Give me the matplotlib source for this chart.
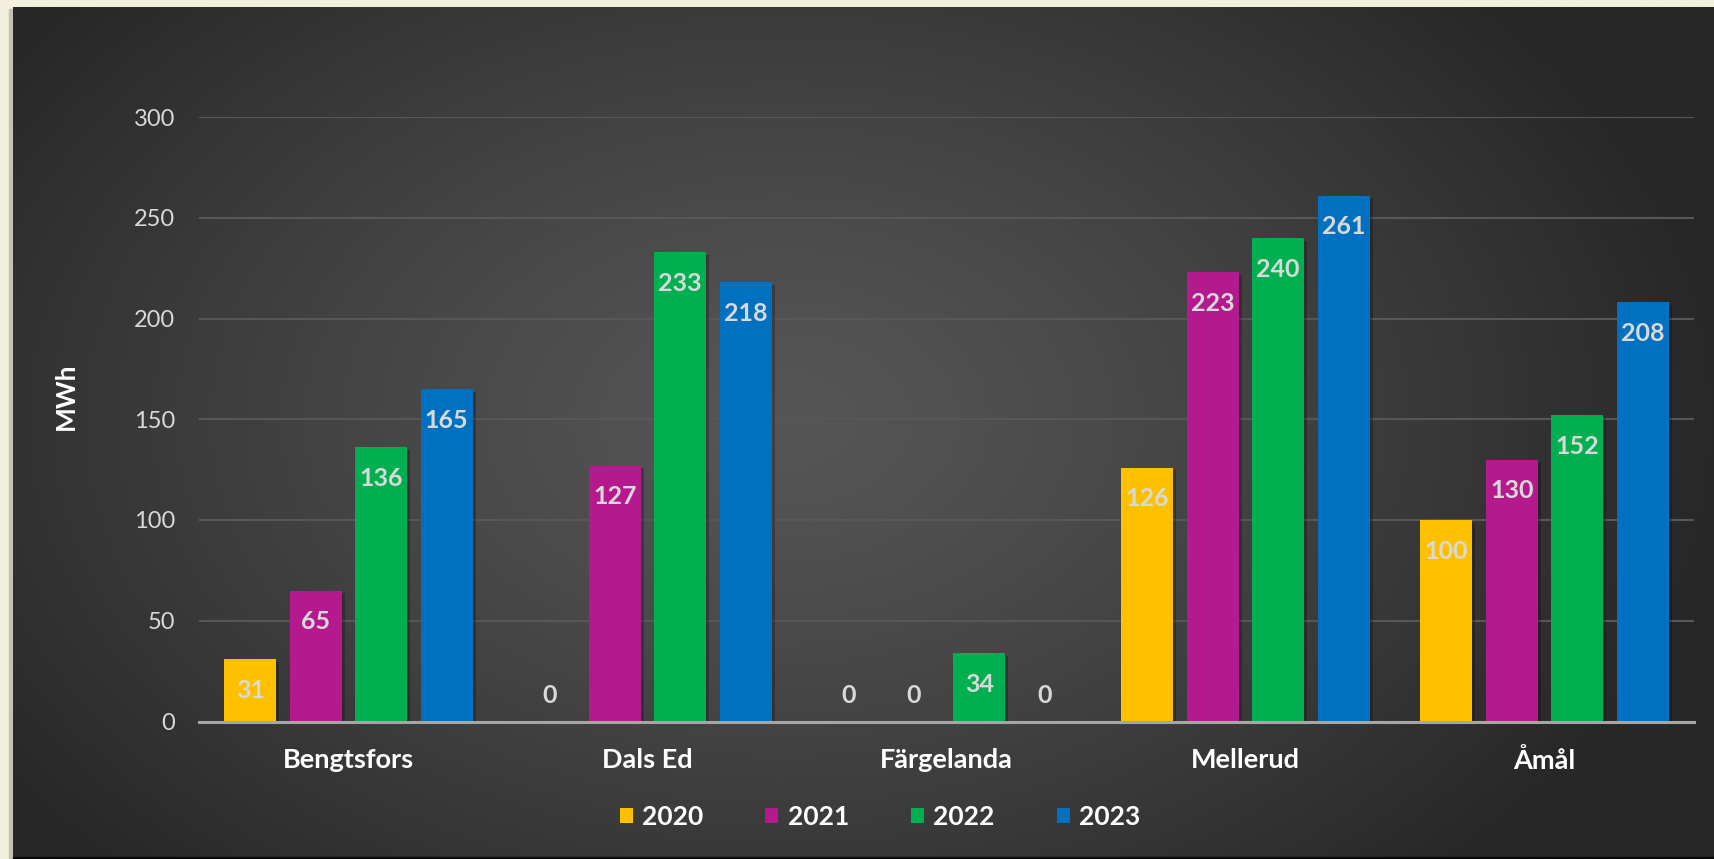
import numpy as np
import matplotlib
matplotlib.use("Agg")
import matplotlib.pyplot as plt
import matplotlib.patheffects as pe
from matplotlib.patches import Rectangle

# data
towns = ["Bengtsfors", "Dals Ed", "Färgelanda", "Mellerud", "Åmål"]
years = ["2020", "2021", "2022", "2023"]
v2020 = [31, 0, 0, 126, 100]
v2021 = [65, 127, 0, 223, 130]
v2022 = [136, 233, 34, 240, 152]
v2023 = [165, 218, 0, 261, 208]
series = [v2020, v2021, v2022, v2023]
colors = ["#FFC000", "#B41A8E", "#00B050", "#0070C0"]

LABEL = "#D9D9D9"
W, H = 1714, 859

plt.rcParams["font.family"] = ["Lato", "DejaVu Sans"]

fig = plt.figure(figsize=(W / 100, H / 100), dpi=100)

# background: cream page with a dark radial-gradient panel
bg = fig.add_axes([0, 0, 1, 1], zorder=-10)
bg.add_patch(Rectangle((0, 0), W, H, color="#F2EFDC", zorder=0))
bg.add_patch(Rectangle((9, 9), 8, H, color="#C4C2B2", zorder=1))
px0, py0, px1, py1 = 13, 7, W, 857
xx, yy = np.meshgrid(np.linspace(px0, px1, 400), np.linspace(py0, py1, 200))
cx, cy = 780, 420
r = np.sqrt(((xx - cx) / 950) ** 2 + ((yy - cy) / 640) ** 2)
t = np.clip(r, 0, 1) ** 1.25
light, dark = np.array([0x56, 0x56, 0x56]) / 255, np.array([0x27, 0x27, 0x27]) / 255
img = light[None, None, :] * (1 - t[..., None]) + dark[None, None, :] * t[..., None]
bg.imshow(img, extent=(px0, px1, py1, py0), aspect="auto", interpolation="bilinear", zorder=2)
bg.add_patch(Rectangle((px0, py1), W, H - py1, color="#0A0A0A", zorder=3))
bg.set_xlim(0, W)
bg.set_ylim(H, 0)
bg.axis("off")

# main axes
ax = fig.add_axes([199 / W, (H - 721.5) / H, (1694 - 199) / W, (721.5 - 117) / H])
ax.patch.set_alpha(0)
x = np.arange(len(towns))
step = 0.219
bw = 0.175
shadow = [pe.SimplePatchShadow(offset=(2, -2), shadow_rgbFace="black", alpha=0.25), pe.Normal()]
for i, (vals, col) in enumerate(zip(series, colors)):
    pos = x + (i - 1.5) * step
    bars = ax.bar(pos, vals, width=bw, color=col, label=years[i], zorder=3)
    for b in bars:
        b.set_path_effects(shadow)
    for p, v in zip(pos, vals):
        if v > 0:
            ax.annotate(f"{v}", (p, v), xytext=(0, -22.5), textcoords="offset points",
                        ha="center", va="center", fontsize=18, fontweight="bold",
                        color=LABEL, zorder=5)
        else:
            ax.annotate(f"{v}", (p, 0), xytext=(0, 18.5), textcoords="offset points",
                        ha="center", va="center", fontsize=18, fontweight="bold",
                        color=LABEL, zorder=5)

ax.set_xlim(-0.5, len(towns) - 0.5)
ax.set_ylim(0, 300)
ax.set_yticks(range(0, 301, 50))
ax.grid(axis="y", color="#575757", lw=1.5, zorder=0)
ax.set_axisbelow(True)
for s in ["top", "right", "left"]:
    ax.spines[s].set_visible(False)
ax.spines["bottom"].set_color("#A6A6A6")
ax.spines["bottom"].set_linewidth(2.2)
ax.spines["bottom"].set_zorder(4)
ax.tick_params(axis="y", length=0, pad=17, labelsize=17, labelcolor="#D9D9D9")
ax.tick_params(axis="x", length=0, pad=19, labelsize=19.5, labelcolor="white")
ax.set_xticks(x)
ax.set_xticklabels(towns, fontweight="bold")

fig.text(66 / W, 1 - 396 / H, "MWh", rotation=90, ha="center", va="center",
         fontsize=19, fontweight="bold", color="white")

leg = fig.legend(loc="center", bbox_to_anchor=(880 / W, 1 - 817 / H), ncol=4,
                 frameon=False, handlelength=0.5, handleheight=0.5,
                 handletextpad=0.35, columnspacing=2.35, labelcolor="white",
                 prop={"weight": "bold", "size": 19})
for h in leg.legend_handles:
    h.set_path_effects([])

fig.savefig("out.png", dpi=100)
